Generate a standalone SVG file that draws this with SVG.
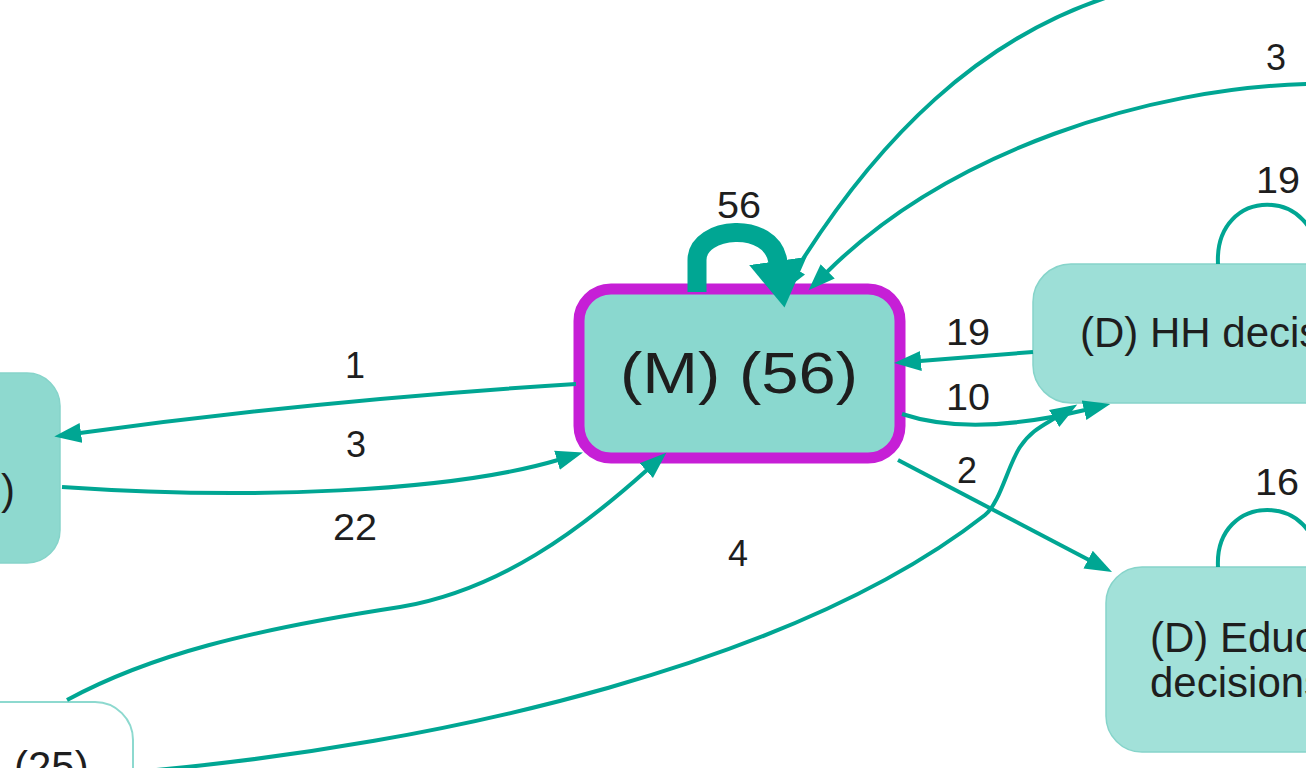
<svg xmlns="http://www.w3.org/2000/svg" width="1306" height="768" viewBox="0 0 1306 768">
<defs>
<style>
.node{stroke:#86d4ca;stroke-width:1.5}
.lbl{font-family:"Liberation Sans",Arial,sans-serif;font-size:42px;fill:#1e1e1e}
.el{font-family:"Liberation Sans",Arial,sans-serif;font-size:36px;fill:#1e1e1e;text-anchor:middle}
.e{fill:none;stroke:#00a693;stroke-width:4}
</style>
<marker id="ah" markerUnits="userSpaceOnUse" viewBox="0 0 28 22" markerWidth="28" markerHeight="22" refX="1" refY="11" orient="auto"><path d="M0,1 L27,11 L0,21 Z" fill="#00a693"/></marker>
<marker id="ahb" markerUnits="userSpaceOnUse" viewBox="0 0 48 58" markerWidth="48" markerHeight="58" refX="1" refY="29" orient="auto"><path d="M0,0 L47,29 L0,58 Z" fill="#00a693"/></marker>
</defs>
<rect width="1306" height="768" fill="#ffffff"/>

<g id="node-left">
<rect class="node" x="-300" y="373" width="360" height="190" rx="33" fill="#8ed9cf"/>
<text class="lbl" x="15" y="504" text-anchor="end">)</text>
</g>
<g id="node-bottom-left">
<rect x="-200" y="702" width="333" height="200" rx="38" fill="#ffffff" stroke="#8dd9cf" stroke-width="2"/>
<text class="lbl" x="14" y="781">(25)</text>
</g>
<g id="node-M">
<rect x="579" y="289" width="321" height="169" rx="32" fill="#8ad8cf" stroke="#c61fd6" stroke-width="11"/>
<text x="739" y="393" text-anchor="middle" font-family="Liberation Sans, Arial, sans-serif" font-size="58" fill="#1e1e1e" textLength="238" lengthAdjust="spacingAndGlyphs">(M) (56)</text>
</g>
<g id="node-HH">
<rect class="node" x="1033" y="264" width="400" height="139" rx="38" fill="#9ddfd7"/>
<text class="lbl" x="1080" y="347">(D) HH decis</text>
</g>
<g id="node-Educ">
<rect class="node" x="1106" y="567" width="400" height="185" rx="36" fill="#a2e1d9"/>
<text class="lbl" x="1150" y="652">(D) Educ</text>
<text class="lbl" x="1150" y="697">decisions</text>
</g>

<g id="connectors">
<path class="e" d="M1105 -2 C980 40,880 135,796 270" marker-end="url(#ah)"/>
<path d="M697 292 L697 260 C697 226,772 220,778 262" fill="none" stroke="#00a693" stroke-width="19" marker-end="url(#ahb)"/>
<path class="e" d="M1308 84 C1150 88,950 150,827 272" marker-end="url(#ah)"/>
<path class="e" d="M576 384 Q320 400,80 433" marker-end="url(#ah)"/>
<path class="e" d="M62 487 C250 500,450 492,558 460" marker-end="url(#ah)"/>
<path class="e" d="M67 700 C150 655,250 630,400 607 C500 590,580 530,647 470" stroke-width="6" marker-end="url(#ah)"/>
<path class="e" d="M134 772 C450 745,800 660,985 515 C1000 503,1008 465,1020 447 C1030 432,1040 427,1055 418" marker-end="url(#ah)"/>
<path class="e" d="M1033 352 L920 361" marker-end="url(#ah)"/>
<path class="e" d="M902 414 C950 430,1010 428,1085 410" marker-end="url(#ah)"/>
<path class="e" d="M898 460 L1089 560" marker-end="url(#ah)"/>
<path class="e" d="M1218 264 C1214 185,1320 185,1318 264"/>
<path class="e" d="M1218 567 C1214 491,1320 491,1318 567"/>
</g>

<g id="connector-labels">
<text class="el" x="739" y="218" textLength="44" lengthAdjust="spacingAndGlyphs">56</text>
<text class="el" x="1276" y="70">3</text>
<text class="el" x="1278" y="193" textLength="44" lengthAdjust="spacingAndGlyphs">19</text>
<text class="el" x="968" y="345" textLength="44" lengthAdjust="spacingAndGlyphs">19</text>
<text class="el" x="968" y="410" textLength="44" lengthAdjust="spacingAndGlyphs">10</text>
<text class="el" x="967" y="483">2</text>
<text class="el" x="1277" y="495" textLength="44" lengthAdjust="spacingAndGlyphs">16</text>
<text class="el" x="355" y="378">1</text>
<text class="el" x="356" y="457">3</text>
<text class="el" x="355" y="540" textLength="44" lengthAdjust="spacingAndGlyphs">22</text>
<text class="el" x="738" y="566">4</text>
</g>
</svg>
